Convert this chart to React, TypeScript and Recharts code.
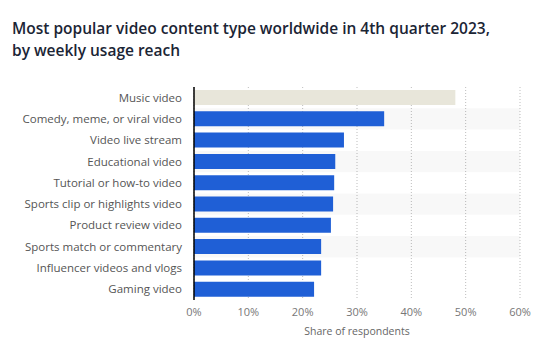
import React from "react";
import {
  BarChart,
  Bar,
  XAxis,
  YAxis,
  CartesianGrid,
  ReferenceArea,
  Cell,
} from "recharts";

const categories = [
  "Music video",
  "Comedy, meme, or viral video",
  "Video live stream",
  "Educational video",
  "Tutorial or how-to video",
  "Sports clip or highlights video",
  "Product review video",
  "Sports match or commentary",
  "Influencer videos and vlogs",
  "Gaming video",
];
const shares = [48.1, 35.0, 27.6, 26.0, 25.8, 25.6, 25.2, 23.4, 23.4, 22.1];
const xTicks = [0, 10, 20, 30, 40, 50, 60];
const highlighted = "Music video";

const data = categories.map((name, i) => ({ name, value: shares[i] }));

const CategoryTick = (props: any) => {
  const { x, y, payload } = props;
  return (
    <text
      x={x}
      y={y}
      dy="0.35em"
      textAnchor="end"
      fontSize={11.5}
      fill="#555"
      fontFamily="'Open Sans', sans-serif"
    >
      {payload.value}
    </text>
  );
};

export default function App() {
  return (
    <div
      style={{
        position: "absolute",
        left: 0,
        top: 0,
        width: 553,
        height: 358,
        background: "#fff",
        fontFamily: "'Open Sans', sans-serif",
      }}
    >
      <div
        style={{
          position: "absolute",
          left: 12,
          top: 17,
          fontSize: 15.5,
          fontWeight: 600,
          lineHeight: "22px",
          color: "#1b2535",
          width: 540,
          whiteSpace: "nowrap",
        }}
      >
        Most popular video content type worldwide in 4th quarter 2023,
        <br />
        by weekly usage reach
      </div>
      <div style={{ position: "absolute", left: 0, top: 0 }}>
        <BarChart
          width={553}
          height={358}
          data={data}
          layout="vertical"
          margin={{ top: 87, right: 33, bottom: 23, left: 0 }}
        >
          {categories.map((c, i) =>
            i % 2 === 1 ? (
              <ReferenceArea
                key={c}
                y1={c}
                y2={c}
                fill="#000"
                fillOpacity={0.028}
                stroke="none"
              />
            ) : null
          )}
          <CartesianGrid
            horizontal={false}
            stroke="#bdbdbd"
            strokeDasharray="1 2"
          />
          <XAxis
            type="number"
            domain={[0, 60]}
            ticks={xTicks}
            tickFormatter={(v) => `${v}%`}
            axisLine={false}
            tickLine={false}
            height={35}
            tick={{ fontSize: 11, fill: "#777", fontFamily: "'Open Sans', sans-serif" }}
            label={{
              value: "Share of respondents",
              position: "insideBottom",
              offset: 0,
              fontSize: 10.5,
              fill: "#666",
              fontFamily: "'Open Sans', sans-serif",
            }}
          />
          <YAxis
            type="category"
            dataKey="name"
            width={194}
            axisLine={{ stroke: "#000", strokeWidth: 1.5 }}
            tickLine={false}
            tickSize={6}
            tickMargin={6}
            interval={0}
            tick={<CategoryTick />}
          />
          <Bar dataKey="value" barSize={15} isAnimationActive={false}>
            {data.map((d) => (
              <Cell
                key={d.name}
                fill={d.name === highlighted ? "#e8e6da" : "#1f5fd6"}
              />
            ))}
          </Bar>
        </BarChart>
      </div>
    </div>
  );
}
